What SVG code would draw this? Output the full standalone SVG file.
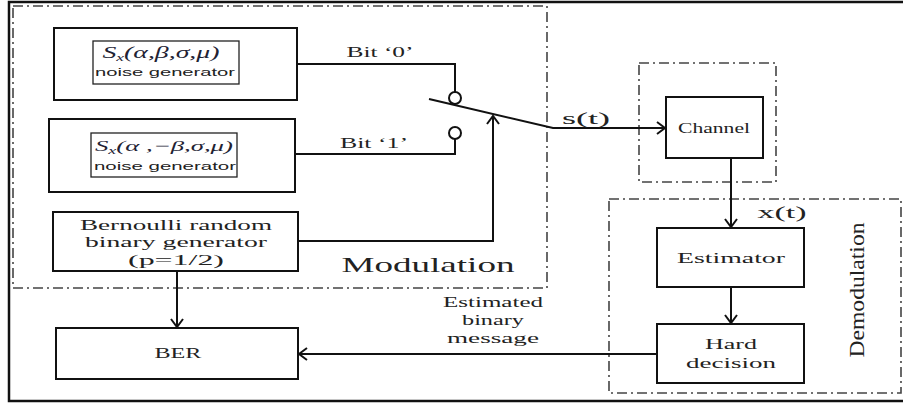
<svg xmlns="http://www.w3.org/2000/svg" width="903" height="404" viewBox="0 0 903 404">
<style>
.box{fill:#fff;stroke:#111;stroke-width:2}
.ibox{fill:none;stroke:#222;stroke-width:1.3}
.grp{fill:none;stroke:#444;stroke-width:1.6;stroke-dasharray:10 4 2 4}
.ln{fill:none;stroke:#111;stroke-width:2}
.sf{font-family:"Liberation Serif","Noto Serif",serif;fill:#222}
.ss{font-family:"Liberation Sans",Arial,sans-serif;fill:#222}
.gr{font-family:"Liberation Serif",serif;font-style:italic;fill:#223}
</style>
<defs>
<marker id="ah" markerUnits="userSpaceOnUse" markerWidth="12" markerHeight="14" refX="9" refY="7" orient="auto" viewBox="0 0 12 14">
<path d="M1,1 L9,7 L1,13" fill="none" stroke="#111" stroke-width="2"/>
</marker>
</defs>
<rect x="9" y="2" width="900" height="399" fill="#fff" stroke="#111" stroke-width="2.5"/>

<g id="modulation">
<rect class="grp" x="13" y="6" width="534" height="282"/>
<text class="sf" x="428" y="272" font-size="21" text-anchor="middle" textLength="173" lengthAdjust="spacingAndGlyphs">Modulation</text>
</g>
<g id="channel-group"><rect class="grp" x="639" y="63" width="137" height="119"/></g>
<g id="demodulation">
<rect class="grp" x="609" y="199" width="292" height="194"/>
<text class="sf" transform="translate(864,290) rotate(-90)" font-size="22" text-anchor="middle" textLength="135" lengthAdjust="spacingAndGlyphs">Demodulation</text>
</g>

<g id="noise0">
<rect class="box" x="54" y="28" width="243" height="72"/>
<rect class="ibox" x="93" y="41" width="146" height="43"/>
<text class="gr" x="161" y="58" font-size="16" text-anchor="middle" textLength="117" lengthAdjust="spacingAndGlyphs">S<tspan font-size="10" dy="3">x</tspan><tspan dy="-3">(α,β,σ,μ)</tspan></text>
<text class="ss" x="165" y="76" font-size="11" text-anchor="middle" textLength="140" lengthAdjust="spacingAndGlyphs">noise generator</text>
</g>
<g id="noise1">
<rect class="box" x="49" y="119" width="246" height="73"/>
<rect class="ibox" x="91" y="133" width="146" height="44"/>
<text class="gr" x="164" y="151" font-size="15" text-anchor="middle" textLength="138" lengthAdjust="spacingAndGlyphs">S<tspan font-size="10" dy="3">x</tspan><tspan dy="-3">(α ,−β,σ,μ)</tspan></text>
<text class="ss" x="165" y="170" font-size="11" text-anchor="middle" textLength="142" lengthAdjust="spacingAndGlyphs">noise generator</text>
</g>
<g id="bernoulli">
<rect class="box" x="53" y="212" width="245" height="59"/>
<text class="sf" x="176" y="230" font-size="15" text-anchor="middle" textLength="192" lengthAdjust="spacingAndGlyphs">Bernoulli random</text>
<text class="sf" x="176" y="247" font-size="15" text-anchor="middle" textLength="182" lengthAdjust="spacingAndGlyphs">binary generator</text>
<text class="sf" x="176" y="265" font-size="15" text-anchor="middle" textLength="96" lengthAdjust="spacingAndGlyphs">(p=1/2)</text>
</g>
<g id="ber">
<rect class="box" x="56" y="328" width="242" height="51"/>
<text class="sf" x="178" y="358" font-size="15" text-anchor="middle" textLength="47" lengthAdjust="spacingAndGlyphs">BER</text>
</g>
<g id="channel">
<rect class="box" x="666" y="97" width="97" height="61"/>
<text class="sf" x="714" y="133" font-size="15" text-anchor="middle" textLength="72" lengthAdjust="spacingAndGlyphs">Channel</text>
</g>
<g id="estimator">
<rect class="box" x="657" y="228" width="147" height="59"/>
<text class="sf" x="731" y="263" font-size="15" text-anchor="middle" textLength="108" lengthAdjust="spacingAndGlyphs">Estimator</text>
</g>
<g id="hard">
<rect class="box" x="657" y="324" width="147" height="59"/>
<text class="sf" x="731" y="349" font-size="15" text-anchor="middle" textLength="52" lengthAdjust="spacingAndGlyphs">Hard</text>
<text class="sf" x="731" y="368" font-size="15" text-anchor="middle" textLength="90" lengthAdjust="spacingAndGlyphs">decision</text>
</g>

<g id="connectors">
<path class="ln" d="M297,64 H455 V92"/>
<circle cx="455" cy="98" r="6" fill="#fff" stroke="#111" stroke-width="2"/>
<path class="ln" d="M295,154 H455 V139"/>
<circle cx="455" cy="133" r="6" fill="#fff" stroke="#111" stroke-width="2"/>
<path class="ln" d="M429,99 L553,128 H665" marker-end="url(#ah)"/>
<path class="ln" d="M298,241 H493 V116" marker-end="url(#ah)"/>
<path class="ln" d="M177,271 V327" marker-end="url(#ah)"/>
<path class="ln" d="M731,158 V227" marker-end="url(#ah)"/>
<path class="ln" d="M731,287 V323" marker-end="url(#ah)"/>
<path class="ln" d="M657,354 H299" marker-end="url(#ah)"/>
<text class="sf" x="380" y="57" font-size="14" text-anchor="middle" textLength="67" lengthAdjust="spacingAndGlyphs">Bit ‘0’</text>
<text class="sf" x="374" y="148" font-size="14" text-anchor="middle" textLength="68" lengthAdjust="spacingAndGlyphs">Bit ‘1’</text>
<text class="sf" x="586" y="124" font-size="16" text-anchor="middle" textLength="48" lengthAdjust="spacingAndGlyphs">s(t)</text>
<text class="sf" x="782" y="218" font-size="16" text-anchor="middle" textLength="49" lengthAdjust="spacingAndGlyphs">x(t)</text>
<text class="sf" x="493" y="307" font-size="15" text-anchor="middle" textLength="100" lengthAdjust="spacingAndGlyphs">Estimated</text>
<text class="sf" x="493" y="325" font-size="15" text-anchor="middle" textLength="62" lengthAdjust="spacingAndGlyphs">binary</text>
<text class="sf" x="493" y="343" font-size="15" text-anchor="middle" textLength="92" lengthAdjust="spacingAndGlyphs">message</text>
</g>
</svg>
